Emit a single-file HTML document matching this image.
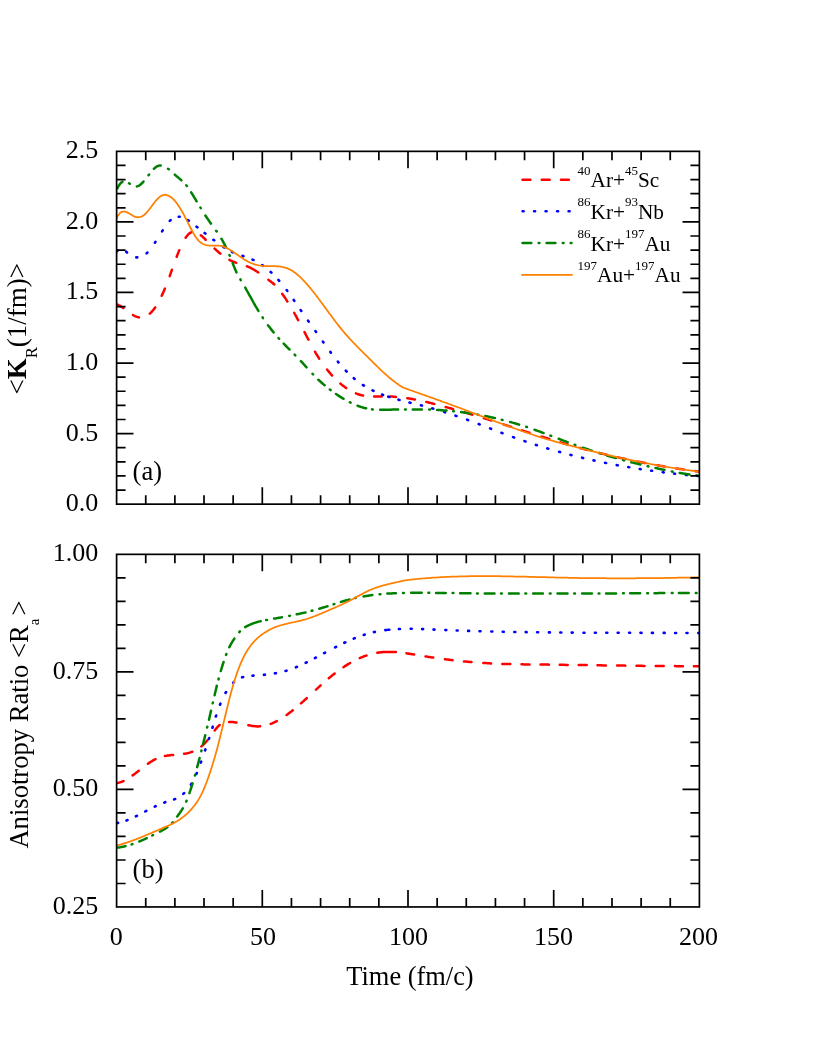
<!DOCTYPE html>
<html><head><meta charset="utf-8"><title>chart</title>
<style>html,body{margin:0;padding:0;background:#fff}svg{display:block;will-change:transform}text{font-family:"Liberation Serif",serif;fill:#000}</style></head><body>
<svg width="817" height="1058" viewBox="0 0 817 1058">
<clipPath id="c1"><rect x="116.6" y="151.35" width="582.8" height="352.8"/></clipPath>
<g clip-path="url(#c1)" fill="none" stroke-linejoin="round" stroke-linecap="round">
<path d="M117.7,304.6L118.4,305.0L119.2,305.4L120.0,305.9L120.8,306.4L121.6,306.9L122.4,307.5L123.2,308.0L123.4,308.2M133.0,315.0L133.8,315.5L134.6,315.9L135.4,316.3L136.2,316.6L137.0,316.9L137.8,317.1L138.6,317.3L138.9,317.4M149.8,313.7L150.4,313.1L151.2,312.3L152.0,311.5L152.8,310.5L153.6,309.6L154.4,308.5L155.2,307.4M161.7,295.8L162.4,294.4L163.2,292.6L164.0,290.7L164.8,288.8L164.9,288.6M169.7,276.2L170.4,274.2L171.2,271.9L171.9,269.8M176.7,256.8L177.4,254.9L178.2,252.9L179.0,250.9L179.3,250.2M185.6,237.8L186.4,236.7L187.2,235.7L188.0,234.7L188.8,233.9L189.6,233.3L190.4,232.7L191.2,232.3L191.5,232.2M200.8,235.2L201.4,235.7L202.2,236.4L203.0,237.2L203.8,237.9L204.6,238.7L205.4,239.5L205.7,239.8M214.5,248.5L215.2,249.1L216.0,249.8L216.8,250.6L217.6,251.3L218.4,252.0L219.2,252.7L220.0,253.3L220.4,253.7M229.5,259.9L230.2,260.3L231.0,260.7L231.8,261.0L232.6,261.4L233.4,261.7L234.2,262.0L235.0,262.3L235.8,262.6L236.3,262.8M246.9,266.3L247.6,266.5L248.4,266.9L249.2,267.2L250.0,267.6L250.8,268.0L251.6,268.4L252.4,268.8L253.2,269.3L254.0,269.7L254.8,270.2L255.6,270.7L256.4,271.2L257.2,271.8L258.0,272.3L258.2,272.4M268.4,279.8L269.2,280.4L270.0,281.0L270.8,281.5L271.6,282.2L272.4,282.8L273.2,283.5L274.0,284.2L274.3,284.4M282.2,293.8L283.0,294.9L283.8,296.0L284.6,297.2L285.4,298.4L286.2,299.6L287.0,300.9L287.4,301.5M294.2,312.8L294.8,314.0L295.6,315.4L296.4,316.8L297.2,318.3L298.0,319.8L298.2,320.2M304.5,332.1L305.2,333.4L306.0,335.0L306.8,336.5L307.6,338.1L308.4,339.6L308.5,339.7M315.0,351.7L315.6,352.8L316.4,354.1L317.2,355.4L318.0,356.7L318.8,358.0L319.2,358.6M327.1,369.5L327.8,370.5L328.6,371.4L329.4,372.4L330.2,373.3L331.0,374.3L331.8,375.2L332.1,375.5M340.4,383.6L341.0,384.1L341.8,384.8L342.6,385.4L343.4,386.0L344.2,386.6L345.0,387.2L345.8,387.8L346.2,388.1M355.9,393.4L356.6,393.7L357.4,394.0L358.2,394.2L359.0,394.5L359.8,394.8L360.6,395.0L361.4,395.2L362.2,395.4L363.0,395.6L363.1,395.6M374.1,396.6L374.8,396.6L375.6,396.6L376.4,396.6L377.2,396.6L378.0,396.6L378.8,396.6L379.6,396.6L380.4,396.5L381.2,396.5L381.7,396.5M390.1,396.5L390.8,396.6L391.6,396.6L392.4,396.6L393.2,396.7L394.0,396.7L394.8,396.8L395.6,396.9L395.9,396.9M407.3,398.2L408.0,398.3L408.8,398.5L409.6,398.6L410.4,398.7L411.2,398.8L412.0,399.0L412.8,399.1L413.6,399.3L414.4,399.4L414.9,399.5M426.3,402.0L427.0,402.1L427.8,402.3L428.6,402.5L429.4,402.7L430.2,402.9L431.0,403.1L431.8,403.3L432.6,403.5L433.4,403.7L434.2,403.9L434.3,403.9M445.7,407.0L446.4,407.2L447.2,407.4L448.0,407.6L448.8,407.9L449.6,408.1L450.4,408.3L451.2,408.5L452.0,408.8L452.8,409.0L453.1,409.1M464.7,412.4L465.4,412.6L466.2,412.9L467.0,413.1L467.8,413.3L468.6,413.6L469.4,413.8L470.2,414.0L471.0,414.3L471.8,414.5L472.3,414.7M483.9,418.2L484.6,418.4L485.4,418.7L486.2,418.9L487.0,419.2L487.8,419.4L488.6,419.7L489.4,419.9L490.2,420.2L491.0,420.4L491.3,420.5M503.3,424.3L504.0,424.6L504.8,424.8L505.6,425.1L506.4,425.3L507.2,425.6L508.0,425.8L508.8,426.1L509.6,426.4L510.4,426.6L511.1,426.8M522.1,430.4L522.8,430.6L523.6,430.9L524.4,431.1L525.2,431.4L526.0,431.6L526.8,431.9L527.6,432.1L528.4,432.4L529.2,432.6L529.5,432.7M541.5,436.6L542.2,436.8L543.0,437.0L543.8,437.3L544.6,437.5L545.4,437.8L546.2,438.0L547.0,438.3L547.8,438.5L548.6,438.8L549.3,439.0M560.5,442.4L561.2,442.6L562.0,442.9L562.8,443.1L563.6,443.3L564.4,443.6L565.2,443.8L566.0,444.0L566.8,444.3L567.6,444.5L567.7,444.5M580.1,448.0L580.8,448.2L581.6,448.4L582.4,448.6L583.2,448.9L584.0,449.1L584.8,449.3L585.6,449.5L586.4,449.7L587.2,449.9L587.5,450.0M599.1,453.0L599.8,453.1L600.6,453.3L601.4,453.5L602.2,453.7L603.0,453.9L603.8,454.1L604.6,454.3L605.4,454.5L606.2,454.7L606.7,454.8M618.1,457.4L618.8,457.6L619.6,457.8L620.4,457.9L621.2,458.1L622.0,458.3L622.8,458.5L623.6,458.6L624.4,458.8L625.2,459.0L625.7,459.1M637.7,461.6L638.4,461.7L639.2,461.9L640.0,462.0L640.8,462.2L641.6,462.3L642.4,462.5L643.2,462.7L644.0,462.8L644.8,463.0L645.3,463.1M657.1,465.2L657.8,465.3L658.6,465.5L659.4,465.6L660.2,465.8L661.0,465.9L661.8,466.0L662.6,466.2L663.4,466.3L664.2,466.4L664.7,466.5M676.1,468.4L676.8,468.5L677.6,468.6L678.4,468.7L679.2,468.9L680.0,469.0L680.8,469.1L681.6,469.2L682.4,469.3L683.2,469.4L683.7,469.5M695.1,471.1L695.8,471.2L696.6,471.3L697.4,471.4L698.2,471.5L699.0,471.6L699.3,471.7" stroke="#ff0000" stroke-width="2.5"/>
<path d="M117.1,251.2L117.7,250.4M126.2,251.7L127.0,252.5M136.3,257.4L137.0,257.4L137.3,257.4M146.6,253.3L147.2,252.7L147.4,252.6M154.9,242.7L155.5,241.8M162.1,231.3L162.7,230.3M169.8,220.9L170.6,220.1L170.6,220.1M178.7,216.8L179.4,216.8L179.7,216.8M187.9,220.1L188.6,220.6L188.9,220.7M196.6,226.7L197.2,227.2L197.4,227.4M204.6,233.0L205.2,233.5L205.4,233.7M213.4,239.8L214.0,240.2L214.2,240.4M223.3,246.9L224.0,247.3L224.3,247.5M231.9,251.8L232.6,252.1L232.9,252.3M242.5,255.9L243.2,256.1L243.5,256.2M252.5,259.6L253.2,259.9L253.5,260.0M262.2,265.1L262.8,265.6L263.0,265.8M270.6,272.0L271.2,272.5L271.4,272.7M278.4,279.9L279.2,280.8M286.7,290.0L287.3,290.9M293.7,299.8L294.3,300.8M300.7,310.1L301.3,311.0M308.1,320.7L308.7,321.6M315.5,331.1L316.1,332.0M322.9,341.6L323.5,342.5M330.3,351.8L330.9,352.7M337.9,361.6L338.5,362.5M345.8,370.7L346.6,371.5M353.8,378.2L354.4,378.8L354.6,378.9M362.9,385.0L363.6,385.4L363.9,385.6M372.5,390.4L373.2,390.7L373.5,390.9M382.1,394.5L382.8,394.8L383.1,394.9M388.3,396.7L389.0,396.9L389.3,397.0M398.5,399.7L399.2,399.9L399.5,400.0M409.5,402.5L410.2,402.7L410.5,402.8M420.9,405.3L421.6,405.5L421.9,405.6M432.3,408.4L433.0,408.6L433.3,408.7M444.1,411.9L444.8,412.2L445.1,412.3M455.5,415.7L456.2,415.9L456.5,416.0M467.1,419.7L467.8,420.0L468.1,420.1M478.7,424.0L479.4,424.3L479.7,424.4M490.1,428.4L490.8,428.7L491.1,428.8M501.5,432.8L502.2,433.1L502.5,433.2M513.1,437.1L513.8,437.4L514.1,437.5M524.5,441.1L525.2,441.4L525.5,441.5M535.9,444.9L536.6,445.1L536.9,445.2M547.3,448.4L548.0,448.6L548.3,448.7M559.1,451.8L559.8,452.0L560.1,452.1M570.5,454.9L571.2,455.1L571.5,455.1M582.1,457.7L582.8,457.9L583.1,458.0M593.5,460.4L594.2,460.5L594.5,460.6M605.1,462.8L605.8,463.0L606.1,463.0M616.7,465.1L617.4,465.2L617.7,465.3M628.3,467.1L629.0,467.3L629.3,467.3M639.7,469.0L640.4,469.1L640.7,469.2M651.1,470.7L651.8,470.8L652.1,470.8M662.7,472.2L663.4,472.3L663.7,472.4M674.1,473.6L674.8,473.7L675.1,473.7M685.9,474.9L686.6,474.9L686.9,475.0M697.1,475.9L697.8,476.0L698.1,476.0" stroke="#0000ff" stroke-width="2.6"/>
<path d="M117.3,188.5L118.0,187.1L118.8,185.7L119.6,184.5L120.4,183.5L121.2,182.7L122.0,182.1L122.5,181.8M136.9,186.4L137.6,186.2L138.4,185.9L139.2,185.5L140.0,184.9L140.8,184.3L141.6,183.5L142.4,182.8L143.2,181.9L143.5,181.5M153.9,168.8L154.6,168.2L155.4,167.5L156.2,166.9L157.0,166.4L157.8,166.0L158.6,165.8L159.4,165.6L160.2,165.5L160.7,165.5M174.8,174.6L175.4,175.2L176.2,175.9L177.0,176.6L177.8,177.2L178.6,177.9L179.4,178.6L180.2,179.2L181.0,179.9L181.4,180.3M191.2,192.3L191.8,193.3L192.6,194.6L193.4,195.9L194.2,197.3L195.0,198.6L195.8,199.9L196.6,201.3L196.6,201.3M205.4,215.5L206.2,216.7L207.0,217.9L207.8,219.1L208.6,220.2L209.4,221.4L210.2,222.6L211.0,223.6M221.4,238.7L222.0,239.7L222.8,241.1L223.6,242.6L224.4,244.1L225.2,245.7L226.0,247.3L226.1,247.5M232.7,263.2L233.4,265.0L234.2,267.0L235.0,269.0L235.8,270.8L236.5,272.4M245.2,287.5L245.8,288.6L246.6,290.1L247.4,291.5L248.2,292.9L249.0,294.4L249.8,295.8L250.6,297.2L251.4,298.7L252.2,300.1L253.0,301.5L253.8,303.0L254.6,304.4L255.4,305.8L256.2,307.1L257.0,308.5L257.8,309.9L258.4,310.9M268.0,325.2L268.8,326.3L269.6,327.3L270.4,328.3L271.2,329.4L272.0,330.4L272.8,331.4L273.6,332.3L273.7,332.5M283.7,343.6L284.4,344.3L285.2,345.2L286.0,346.0L286.8,346.8L287.6,347.6L288.4,348.4L289.2,349.2L289.5,349.5M300.9,361.1L301.6,361.9L302.4,362.7L303.2,363.6L304.0,364.5L304.8,365.4L305.6,366.3L306.4,367.2L306.5,367.3M318.3,379.7L319.0,380.3L319.8,381.0L320.6,381.8L321.4,382.5L322.2,383.2L323.0,383.9L323.8,384.6L324.6,385.3L324.6,385.3M336.0,394.0L336.8,394.5L337.6,395.1L338.4,395.6L339.2,396.1L340.0,396.6L340.8,397.1L341.6,397.6L342.4,398.1L343.2,398.6L343.6,398.8M357.5,405.7L358.2,406.0L359.0,406.3L359.8,406.5L360.6,406.8L361.4,407.1L362.2,407.3L363.0,407.6L363.8,407.8L364.6,408.0L365.4,408.2L366.1,408.3M380.1,409.8L380.8,409.8L381.6,409.8L382.4,409.8L383.2,409.8L384.0,409.8L384.8,409.8L385.6,409.8L386.4,409.8L387.2,409.7L388.0,409.7L388.8,409.7L389.6,409.7L390.4,409.7L391.2,409.7L392.0,409.6L392.8,409.6L393.6,409.6L394.4,409.6L395.2,409.6L396.0,409.6L396.8,409.5L397.6,409.5L398.1,409.5M412.7,409.4L413.4,409.4L414.2,409.4L415.0,409.4L415.8,409.4L416.6,409.4L417.4,409.4L418.2,409.4L419.0,409.4L419.8,409.4L420.6,409.4L421.4,409.4L421.9,409.4M437.1,410.0L437.8,410.0L438.6,410.0L439.4,410.1L440.2,410.1L441.0,410.2L441.8,410.2L442.6,410.3L443.4,410.4L444.2,410.4L445.0,410.5L445.8,410.5L446.5,410.6M461.1,412.1L461.8,412.2L462.6,412.3L463.4,412.4L464.2,412.5L465.0,412.6L465.8,412.7L466.6,412.9L467.4,413.0L468.2,413.1L469.0,413.2L469.8,413.3L470.6,413.4L470.7,413.5M485.3,416.0L486.0,416.2L486.8,416.3L487.6,416.5L488.4,416.7L489.2,416.8L490.0,417.0L490.8,417.2L491.6,417.4L492.4,417.5L493.2,417.7L494.0,417.9L494.8,418.1L494.9,418.1M510.1,422.0L510.8,422.1L511.6,422.4L512.4,422.6L513.2,422.8L514.0,423.1L514.8,423.3L515.6,423.5L516.4,423.8L517.2,424.0L518.0,424.3L518.8,424.5L519.1,424.6M534.5,429.7L535.2,430.0L536.0,430.3L536.8,430.6L537.6,430.8L538.4,431.1L539.2,431.4L540.0,431.7L540.8,432.0L541.6,432.3L542.4,432.6L543.2,432.9L543.5,433.0M558.7,438.8L559.4,439.0L560.2,439.3L561.0,439.7L561.8,440.0L562.6,440.3L563.4,440.6L564.2,440.9L565.0,441.2L565.8,441.5L566.6,441.8L567.4,442.1L567.7,442.2M582.9,447.7L583.6,447.9L584.4,448.2L585.2,448.4L586.0,448.7L586.8,449.0L587.6,449.3L588.4,449.5L589.2,449.8L590.0,450.1L590.8,450.3L591.6,450.6L591.9,450.7M607.1,455.5L607.8,455.8L608.6,456.0L609.4,456.2L610.2,456.5L611.0,456.7L611.8,456.9L612.6,457.2L613.4,457.4L614.2,457.6L615.0,457.9L615.8,458.1L615.9,458.1M631.3,462.3L632.0,462.4L632.8,462.6L633.6,462.8L634.4,463.0L635.2,463.2L636.0,463.4L636.8,463.6L637.6,463.8L638.4,464.0L639.2,464.2L640.0,464.4L640.3,464.5M655.5,468.0L656.2,468.1L657.0,468.3L657.8,468.5L658.6,468.7L659.4,468.9L660.2,469.0L661.0,469.2L661.8,469.4L662.6,469.5L663.4,469.7L664.2,469.9L664.5,469.9M679.7,472.9L680.4,473.0L681.2,473.2L682.0,473.3L682.8,473.4L683.6,473.6L684.4,473.7L685.2,473.8L686.0,473.9L686.8,474.1L687.6,474.2L688.4,474.3L689.2,474.4L689.5,474.4M129.0,183.3L129.8,183.8M148.5,175.2L149.1,174.5M168.0,168.8L168.8,169.3M186.3,185.3L186.9,186.0M200.4,207.5L200.8,208.2M216.1,230.7L216.7,231.4M229.4,255.0L229.8,255.8M240.4,279.4L240.8,280.2M262.6,317.4L263.0,318.2M278.5,338.0L279.1,338.7M294.7,354.7L295.3,355.3M312.5,373.8L313.1,374.4M329.8,389.5L330.6,390.1M349.8,402.2L350.4,402.5L350.6,402.6M372.0,409.3L372.6,409.4L372.8,409.4M405.0,409.4L405.6,409.4L405.8,409.4M429.2,409.6L429.8,409.6L430.0,409.6M453.2,411.2L453.8,411.3L454.0,411.3M477.6,414.6L478.2,414.7L478.4,414.7M501.8,419.7L502.4,419.9L502.6,420.0M526.2,426.9L526.8,427.1L527.0,427.1M550.4,435.6L551.0,435.8L551.2,435.9M574.6,444.7L575.2,444.9L575.4,445.0M599.4,453.1L600.0,453.3L600.2,453.4M623.2,460.1L623.8,460.3L624.0,460.4M647.6,466.2L648.2,466.3L648.4,466.4M671.8,471.4L672.4,471.5L672.6,471.6M696.4,475.3L697.0,475.4L697.2,475.4" stroke="#008000" stroke-width="2.5"/>
<path d="M116.2,219.2L117.0,217.4L117.8,215.9L118.6,214.7L119.4,213.7L120.2,212.9L121.0,212.3L121.8,211.8L122.6,211.6L123.4,211.5L124.2,211.5L125.0,211.6L125.8,211.8L126.6,212.1L127.4,212.4L128.2,212.9L129.0,213.3L129.8,213.8L130.6,214.3L131.4,214.8L132.2,215.3L133.0,215.8L133.8,216.2L134.6,216.6L135.4,216.8L136.2,217.1L137.0,217.2L137.8,217.3L138.6,217.2L139.4,217.1L140.2,217.0L141.0,216.7L141.8,216.4L142.6,215.9L143.4,215.4L144.2,214.8L145.0,214.2L145.8,213.4L146.6,212.6L147.4,211.7L148.2,210.7L149.0,209.7L149.8,208.7L150.6,207.7L151.4,206.6L152.2,205.5L153.0,204.4L153.8,203.4L154.6,202.3L155.4,201.3L156.2,200.3L157.0,199.4L157.8,198.6L158.6,197.8L159.4,197.1L160.2,196.5L161.0,196.0L161.8,195.6L162.6,195.3L163.4,195.1L164.2,194.9L165.0,194.9L165.8,194.9L166.6,195.1L167.4,195.3L168.2,195.6L169.0,195.9L169.8,196.4L170.6,196.9L171.4,197.5L172.2,198.2L173.0,198.9L173.8,199.7L174.6,200.6L175.4,201.5L176.2,202.5L177.0,203.6L177.8,204.7L178.6,205.9L179.4,207.1L180.2,208.4L181.0,209.7L181.8,211.1L182.6,212.5L183.4,213.9L184.2,215.4L185.0,217.0L185.8,218.5L186.6,220.1L187.4,221.7L188.2,223.3L189.0,224.9L189.8,226.5L190.6,228.0L191.4,229.5L192.2,231.0L193.0,232.5L193.8,233.9L194.6,235.2L195.4,236.4L196.2,237.6L197.0,238.7L197.8,239.7L198.6,240.6L199.4,241.4L200.2,242.1L201.0,242.8L201.8,243.3L202.6,243.8L203.4,244.2L204.2,244.5L205.0,244.8L205.8,245.0L206.6,245.2L207.4,245.3L208.2,245.4L209.0,245.5L209.8,245.5L210.6,245.6L211.4,245.6L212.2,245.6L213.0,245.5L213.8,245.5L214.6,245.5L215.4,245.5L216.2,245.5L217.0,245.5L217.8,245.5L218.6,245.6L219.4,245.7L220.2,245.8L221.0,245.9L221.8,246.1L222.6,246.4L223.4,246.6L224.2,246.9L225.0,247.3L225.8,247.6L226.6,248.0L227.4,248.4L228.2,248.8L229.0,249.3L229.8,249.7L230.6,250.2L231.4,250.7L232.2,251.2L233.0,251.7L233.8,252.3L234.6,252.8L235.4,253.4L236.2,253.9L237.0,254.5L237.8,255.0L238.6,255.6L239.4,256.2L240.2,256.7L241.0,257.3L241.8,257.8L242.6,258.3L243.4,258.9L244.2,259.4L245.0,259.9L245.8,260.4L246.6,260.8L247.4,261.3L248.2,261.7L249.0,262.1L249.8,262.5L250.6,262.8L251.4,263.2L252.2,263.5L253.0,263.8L253.8,264.1L254.6,264.4L255.4,264.6L256.2,264.8L257.0,265.0L257.8,265.2L258.6,265.4L259.4,265.5L260.2,265.6L261.0,265.7L261.8,265.8L262.6,265.9L263.4,266.0L264.2,266.0L265.0,266.0L265.8,266.1L266.6,266.1L267.4,266.1L268.2,266.1L269.0,266.1L269.8,266.1L270.6,266.1L271.4,266.1L272.2,266.2L273.0,266.2L273.8,266.2L274.6,266.2L275.4,266.2L276.2,266.3L277.0,266.3L277.8,266.4L278.6,266.4L279.4,266.5L280.2,266.6L281.0,266.7L281.8,266.9L282.6,267.0L283.4,267.2L284.2,267.4L285.0,267.6L285.8,267.8L286.6,268.1L287.4,268.4L288.2,268.7L289.0,269.1L289.8,269.5L290.6,269.9L291.4,270.3L292.2,270.8L293.0,271.3L293.8,271.9L294.6,272.4L295.4,273.0L296.2,273.7L297.0,274.3L297.8,275.0L298.6,275.7L299.4,276.4L300.2,277.1L301.0,277.9L301.8,278.7L302.6,279.5L303.4,280.3L304.2,281.2L305.0,282.0L305.8,282.9L306.6,283.8L307.4,284.7L308.2,285.6L309.0,286.6L309.8,287.5L310.6,288.5L311.4,289.5L312.2,290.5L313.0,291.5L313.8,292.5L314.6,293.5L315.4,294.5L316.2,295.6L317.0,296.6L317.8,297.7L318.6,298.8L319.4,299.8L320.2,300.9L321.0,302.0L321.8,303.1L322.6,304.1L323.4,305.2L324.2,306.3L325.0,307.4L325.8,308.5L326.6,309.6L327.4,310.7L328.2,311.8L329.0,312.9L329.8,314.0L330.6,315.0L331.4,316.1L332.2,317.2L333.0,318.3L333.8,319.3L334.6,320.4L335.4,321.5L336.2,322.5L337.0,323.5L337.8,324.6L338.6,325.6L339.4,326.6L340.2,327.6L341.0,328.6L341.8,329.6L342.6,330.5L343.4,331.5L344.2,332.4L345.0,333.4L345.8,334.3L346.6,335.2L347.4,336.1L348.2,337.0L349.0,337.9L349.8,338.8L350.6,339.6L351.4,340.5L352.2,341.3L353.0,342.2L353.8,343.0L354.6,343.9L355.4,344.7L356.2,345.5L357.0,346.3L357.8,347.1L358.6,348.0L359.4,348.8L360.2,349.6L361.0,350.4L361.8,351.2L362.6,352.0L363.4,352.8L364.2,353.6L365.0,354.3L365.8,355.1L366.6,355.9L367.4,356.7L368.2,357.5L369.0,358.3L369.8,359.1L370.6,359.9L371.4,360.7L372.2,361.5L373.0,362.3L373.8,363.1L374.6,363.9L375.4,364.7L376.2,365.5L377.0,366.2L377.8,367.0L378.6,367.8L379.4,368.6L380.2,369.3L381.0,370.1L381.8,370.8L382.6,371.6L383.4,372.3L384.2,373.1L385.0,373.8L385.8,374.5L386.6,375.2L387.4,375.9L388.2,376.6L389.0,377.3L389.8,378.0L390.6,378.7L391.4,379.3L392.2,380.0L393.0,380.6L393.8,381.2L394.6,381.8L395.4,382.4L396.2,383.0L397.0,383.6L397.8,384.1L398.6,384.7L399.4,385.2L400.2,385.7L401.0,386.2L401.8,386.7L402.6,387.2L403.4,387.6L404.2,388.0L405.0,388.3L405.8,388.6L406.6,388.9L407.4,389.1L408.2,389.4L409.0,389.7L409.8,390.0L410.6,390.3L411.4,390.5L412.2,390.8L413.0,391.1L413.8,391.4L414.6,391.7L415.4,392.0L416.2,392.2L417.0,392.5L417.8,392.8L418.6,393.1L419.4,393.4L420.2,393.7L421.0,393.9L421.8,394.2L422.6,394.5L423.4,394.8L424.2,395.1L425.0,395.4L425.8,395.6L426.6,395.9L427.4,396.2L428.2,396.5L429.0,396.8L429.8,397.1L430.6,397.4L431.4,397.6L432.2,397.9L433.0,398.2L433.8,398.5L434.6,398.8L435.4,399.1L436.2,399.4L437.0,399.6L437.8,399.9L438.6,400.2L439.4,400.5L440.2,400.8L441.0,401.1L441.8,401.4L442.6,401.7L443.4,402.0L444.2,402.2L445.0,402.5L445.8,402.8L446.6,403.1L447.4,403.4L448.2,403.7L449.0,404.0L449.8,404.3L450.6,404.6L451.4,404.9L452.2,405.2L453.0,405.5L453.8,405.8L454.6,406.1L455.4,406.4L456.2,406.7L457.0,406.9L457.8,407.2L458.6,407.5L459.4,407.8L460.2,408.1L461.0,408.4L461.8,408.7L462.6,409.0L463.4,409.3L464.2,409.6L465.0,409.9L465.8,410.2L466.6,410.5L467.4,410.8L468.2,411.1L469.0,411.5L469.8,411.8L470.6,412.1L471.4,412.4L472.2,412.7L473.0,413.0L473.8,413.3L474.6,413.6L475.4,413.9L476.2,414.2L477.0,414.5L477.8,414.8L478.6,415.1L479.4,415.4L480.2,415.7L481.0,416.0L481.8,416.3L482.6,416.6L483.4,416.9L484.2,417.2L485.0,417.5L485.8,417.8L486.6,418.1L487.4,418.4L488.2,418.7L489.0,419.0L489.8,419.3L490.6,419.6L491.4,419.9L492.2,420.2L493.0,420.5L493.8,420.8L494.6,421.1L495.4,421.4L496.2,421.7L497.0,422.0L497.8,422.3L498.6,422.6L499.4,422.9L500.2,423.2L501.0,423.5L501.8,423.8L502.6,424.1L503.4,424.4L504.2,424.7L505.0,425.0L505.8,425.3L506.6,425.6L507.4,425.9L508.2,426.2L509.0,426.4L509.8,426.7L510.6,427.0L511.4,427.3L512.2,427.6L513.0,427.9L513.8,428.2L514.6,428.5L515.4,428.7L516.2,429.0L517.0,429.3L517.8,429.6L518.6,429.9L519.4,430.2L520.2,430.4L521.0,430.7L521.8,431.0L522.6,431.3L523.4,431.5L524.2,431.8L525.0,432.1L525.8,432.4L526.6,432.6L527.4,432.9L528.2,433.2L529.0,433.4L529.8,433.7L530.6,434.0L531.4,434.2L532.2,434.5L533.0,434.8L533.8,435.0L534.6,435.3L535.4,435.6L536.2,435.8L537.0,436.1L537.8,436.3L538.6,436.6L539.4,436.8L540.2,437.1L541.0,437.3L541.8,437.6L542.6,437.8L543.4,438.1L544.2,438.3L545.0,438.6L545.8,438.8L546.6,439.1L547.4,439.3L548.2,439.5L549.0,439.8L549.8,440.0L550.6,440.2L551.4,440.5L552.2,440.7L553.0,440.9L553.8,441.2L554.6,441.4L555.4,441.6L556.2,441.8L557.0,442.1L557.8,442.3L558.6,442.5L559.4,442.7L560.2,442.9L561.0,443.1L561.8,443.4L562.6,443.6L563.4,443.8L564.2,444.0L565.0,444.2L565.8,444.4L566.6,444.6L567.4,444.9L568.2,445.1L569.0,445.3L569.8,445.5L570.6,445.7L571.4,445.9L572.2,446.1L573.0,446.3L573.8,446.5L574.6,446.7L575.4,446.9L576.2,447.1L577.0,447.3L577.8,447.5L578.6,447.7L579.4,448.0L580.2,448.2L581.0,448.4L581.8,448.6L582.6,448.8L583.4,449.0L584.2,449.2L585.0,449.4L585.8,449.6L586.6,449.8L587.4,450.0L588.2,450.2L589.0,450.4L589.8,450.6L590.6,450.8L591.4,451.0L592.2,451.2L593.0,451.4L593.8,451.6L594.6,451.8L595.4,452.0L596.2,452.2L597.0,452.4L597.8,452.6L598.6,452.8L599.4,453.0L600.2,453.1L601.0,453.3L601.8,453.5L602.6,453.7L603.4,453.9L604.2,454.1L605.0,454.3L605.8,454.5L606.6,454.7L607.4,454.9L608.2,455.1L609.0,455.3L609.8,455.4L610.6,455.6L611.4,455.8L612.2,456.0L613.0,456.2L613.8,456.4L614.6,456.6L615.4,456.7L616.2,456.9L617.0,457.1L617.8,457.3L618.6,457.5L619.4,457.6L620.2,457.8L621.0,458.0L621.8,458.2L622.6,458.3L623.4,458.5L624.2,458.7L625.0,458.9L625.8,459.0L626.6,459.2L627.4,459.4L628.2,459.6L629.0,459.7L629.8,459.9L630.6,460.1L631.4,460.2L632.2,460.4L633.0,460.6L633.8,460.7L634.6,460.9L635.4,461.1L636.2,461.2L637.0,461.4L637.8,461.5L638.6,461.7L639.4,461.9L640.2,462.0L641.0,462.2L641.8,462.3L642.6,462.5L643.4,462.7L644.2,462.8L645.0,463.0L645.8,463.1L646.6,463.3L647.4,463.4L648.2,463.6L649.0,463.7L649.8,463.9L650.6,464.0L651.4,464.2L652.2,464.3L653.0,464.5L653.8,464.6L654.6,464.8L655.4,464.9L656.2,465.1L657.0,465.2L657.8,465.3L658.6,465.5L659.4,465.6L660.2,465.8L661.0,465.9L661.8,466.0L662.6,466.2L663.4,466.3L664.2,466.5L665.0,466.6L665.8,466.7L666.6,466.9L667.4,467.0L668.2,467.1L669.0,467.3L669.8,467.4L670.6,467.5L671.4,467.6L672.2,467.8L673.0,467.9L673.8,468.0L674.6,468.2L675.4,468.3L676.2,468.4L677.0,468.5L677.8,468.7L678.6,468.8L679.4,468.9L680.2,469.0L681.0,469.1L681.8,469.3L682.6,469.4L683.4,469.5L684.2,469.6L685.0,469.7L685.8,469.9L686.6,470.0L687.4,470.1L688.2,470.2L689.0,470.3L689.8,470.4L690.6,470.5L691.4,470.6L692.2,470.8L693.0,470.9L693.8,471.0L694.6,471.1L695.4,471.2L696.2,471.3L697.0,471.4L697.8,471.5L698.6,471.6L699.4,471.7" stroke="#ff8000" stroke-width="1.75" stroke-linecap="butt"/>
</g>
<path d="M145.74,504.15v-9.0M145.74,151.35v9.0M174.88,504.15v-9.0M174.88,151.35v9.0M204.02,504.15v-9.0M204.02,151.35v9.0M233.16,504.15v-9.0M233.16,151.35v9.0M262.30,504.15v-16.9M262.30,151.35v16.9M291.44,504.15v-9.0M291.44,151.35v9.0M320.58,504.15v-9.0M320.58,151.35v9.0M349.72,504.15v-9.0M349.72,151.35v9.0M378.86,504.15v-9.0M378.86,151.35v9.0M408.00,504.15v-16.9M408.00,151.35v16.9M437.14,504.15v-9.0M437.14,151.35v9.0M466.28,504.15v-9.0M466.28,151.35v9.0M495.42,504.15v-9.0M495.42,151.35v9.0M524.56,504.15v-9.0M524.56,151.35v9.0M553.70,504.15v-16.9M553.70,151.35v16.9M582.84,504.15v-9.0M582.84,151.35v9.0M611.98,504.15v-9.0M611.98,151.35v9.0M641.12,504.15v-9.0M641.12,151.35v9.0M670.26,504.15v-9.0M670.26,151.35v9.0M116.6,490.04h9.0M699.4,490.04h-9.0M116.6,475.93h9.0M699.4,475.93h-9.0M116.6,461.81h9.0M699.4,461.81h-9.0M116.6,447.70h9.0M699.4,447.70h-9.0M116.6,433.59h16.9M699.4,433.59h-16.9M116.6,419.48h9.0M699.4,419.48h-9.0M116.6,405.37h9.0M699.4,405.37h-9.0M116.6,391.25h9.0M699.4,391.25h-9.0M116.6,377.14h9.0M699.4,377.14h-9.0M116.6,363.03h16.9M699.4,363.03h-16.9M116.6,348.92h9.0M699.4,348.92h-9.0M116.6,334.81h9.0M699.4,334.81h-9.0M116.6,320.69h9.0M699.4,320.69h-9.0M116.6,306.58h9.0M699.4,306.58h-9.0M116.6,292.47h16.9M699.4,292.47h-16.9M116.6,278.36h9.0M699.4,278.36h-9.0M116.6,264.25h9.0M699.4,264.25h-9.0M116.6,250.13h9.0M699.4,250.13h-9.0M116.6,236.02h9.0M699.4,236.02h-9.0M116.6,221.91h16.9M699.4,221.91h-16.9M116.6,207.80h9.0M699.4,207.80h-9.0M116.6,193.69h9.0M699.4,193.69h-9.0M116.6,179.57h9.0M699.4,179.57h-9.0M116.6,165.46h9.0M699.4,165.46h-9.0" stroke="#000" stroke-width="1.7" fill="none"/>
<rect x="116.6" y="151.35" width="582.8" height="352.8" fill="none" stroke="#000" stroke-width="1.7"/>
<clipPath id="c2"><rect x="116.6" y="554.35" width="582.8" height="352.6"/></clipPath>
<g clip-path="url(#c2)" fill="none" stroke-linejoin="round" stroke-linecap="round">
<path d="M117.7,782.9L118.4,782.8L119.2,782.6L120.0,782.3L120.8,782.1L121.6,781.8L122.4,781.5L123.2,781.1L123.5,781.0M132.6,775.4L133.4,774.9L134.2,774.3L135.0,773.7L135.8,773.1L136.6,772.4L137.4,771.8L138.2,771.2L138.8,770.7M148.0,763.7L148.8,763.1L149.6,762.6L150.4,762.1L151.2,761.5L152.0,761.1L152.8,760.6L153.6,760.1L154.4,759.7L155.2,759.3L155.5,759.1M164.9,756.0L165.6,755.9L166.4,755.8L167.2,755.6L168.0,755.5L168.8,755.4L169.6,755.3L170.4,755.2L171.2,755.1L172.0,755.1L172.8,755.0L173.1,755.0M184.1,753.8L184.8,753.7L185.6,753.6L186.4,753.4L187.2,753.3L188.0,753.1L188.8,752.9L189.6,752.6L190.4,752.4L191.2,752.1L192.0,751.8L192.3,751.7M201.4,746.4L202.0,745.9L202.8,745.2L203.6,744.4L204.4,743.6L205.2,742.8L206.0,741.9L206.8,741.0L207.3,740.4M214.7,730.5L215.4,729.6L216.2,728.6L217.0,727.6L217.8,726.7L218.6,725.9L219.4,725.2L219.6,725.0M229.1,721.9L229.8,721.9L230.6,721.9L231.4,722.0L232.2,722.0L233.0,722.1L233.8,722.2L234.6,722.3L235.4,722.4L236.2,722.6L236.5,722.6M248.3,725.2L249.0,725.3L249.8,725.5L250.6,725.6L251.4,725.8L252.2,725.9L253.0,726.0L253.8,726.1L254.6,726.2L255.4,726.3L256.2,726.3L257.0,726.4L257.8,726.4L258.6,726.4L259.4,726.3L260.1,726.3M270.7,723.9L271.4,723.6L272.2,723.3L273.0,722.9L273.8,722.6L274.6,722.2L275.4,721.8L276.2,721.4L276.9,721.0M286.6,715.0L287.4,714.4L288.2,713.8L289.0,713.2L289.8,712.6L290.6,712.0L291.4,711.4L292.2,710.7L292.8,710.2M301.0,703.4L301.6,702.8L302.4,702.1L303.2,701.4L304.0,700.7L304.8,699.9L305.6,699.2L306.4,698.5L306.8,698.1M316.0,689.7L316.6,689.1L317.4,688.4L318.2,687.6L319.0,686.9L319.8,686.2L320.6,685.4L320.6,685.4M328.8,678.3L329.4,677.8L330.2,677.1L331.0,676.4L331.8,675.8L332.6,675.1L333.4,674.5L334.2,673.9L334.6,673.5M343.4,667.2L344.2,666.7L345.0,666.1L345.8,665.6L346.6,665.1L347.4,664.6L348.2,664.1L349.0,663.7L349.8,663.2L350.1,663.0M359.7,658.1L360.4,657.8L361.2,657.5L362.0,657.2L362.8,656.8L363.6,656.5L364.4,656.2L365.2,655.9L366.0,655.7L366.5,655.5M377.3,652.8L378.0,652.7L378.8,652.5L379.6,652.4L380.4,652.3L381.2,652.2L382.0,652.2L382.8,652.1L383.6,652.0L384.4,652.0L385.2,652.0L386.0,651.9L386.8,651.9L387.6,651.9L388.4,651.9L389.2,651.9L390.0,651.9L390.8,651.9L391.6,651.9L392.4,651.9L393.2,652.0L394.0,652.0L394.8,652.1L395.6,652.1L395.9,652.1M406.5,653.3L407.2,653.4L408.0,653.5L408.8,653.7L409.6,653.8L410.4,653.9L411.2,654.0L412.0,654.2L412.8,654.3L413.6,654.4L414.1,654.5M425.5,656.4L426.2,656.5L427.0,656.6L427.8,656.8L428.6,656.9L429.4,657.0L430.2,657.1L431.0,657.3L431.8,657.4L432.6,657.5L433.3,657.6M444.9,659.2L445.6,659.3L446.4,659.4L447.2,659.5L448.0,659.6L448.8,659.7L449.6,659.8L450.4,659.9L451.2,660.0L452.0,660.1L452.5,660.2M463.9,661.4L464.6,661.5L465.4,661.5L466.2,661.6L467.0,661.7L467.8,661.8L468.6,661.8L469.4,661.9L470.2,662.0L471.0,662.0L471.5,662.1M483.3,663.0L484.0,663.0L484.8,663.1L485.6,663.1L486.4,663.1L487.2,663.2L488.0,663.2L488.8,663.3L489.6,663.3L490.4,663.4L491.1,663.4M502.3,663.9L503.0,663.9L503.8,663.9L504.6,663.9L505.4,664.0L506.2,664.0L507.0,664.0L507.8,664.0L508.6,664.0L509.4,664.1L510.2,664.1L510.3,664.1M521.5,664.3L522.2,664.3L523.0,664.3L523.8,664.4L524.6,664.4L525.4,664.4L526.2,664.4L527.0,664.4L527.8,664.4L528.6,664.4L529.4,664.4L529.5,664.4M540.5,664.6L541.2,664.6L542.0,664.6L542.8,664.6L543.6,664.6L544.4,664.6L545.2,664.6L546.0,664.6L546.8,664.6L547.6,664.6L548.4,664.6L548.9,664.7M559.7,664.8L560.4,664.8L561.2,664.8L562.0,664.8L562.8,664.8L563.6,664.8L564.4,664.8L565.2,664.9L566.0,664.9L566.8,664.9L567.6,664.9L567.7,664.9M578.7,665.0L579.4,665.0L580.2,665.1L581.0,665.1L581.8,665.1L582.6,665.1L583.4,665.1L584.2,665.1L585.0,665.1L585.8,665.1L586.6,665.1L586.7,665.1M597.5,665.3L598.2,665.3L599.0,665.3L599.8,665.3L600.6,665.3L601.4,665.3L602.2,665.4L603.0,665.4L603.8,665.4L604.6,665.4L605.4,665.4L605.9,665.4M617.1,665.5L617.8,665.6L618.6,665.6L619.4,665.6L620.2,665.6L621.0,665.6L621.8,665.6L622.6,665.6L623.4,665.6L624.2,665.6L625.0,665.6L625.3,665.7M636.5,665.8L637.2,665.8L638.0,665.8L638.8,665.8L639.6,665.8L640.4,665.8L641.2,665.8L642.0,665.8L642.8,665.9L643.6,665.9L644.4,665.9L644.5,665.9M655.7,666.0L656.4,666.0L657.2,666.0L658.0,666.0L658.8,666.0L659.6,666.0L660.4,666.0L661.2,666.0L662.0,666.0L662.8,666.1L663.6,666.1L663.7,666.1M674.9,666.1L675.6,666.1L676.4,666.2L677.2,666.2L678.0,666.2L678.8,666.2L679.6,666.2L680.4,666.2L681.2,666.2L682.0,666.2L682.8,666.2L682.9,666.2M693.9,666.2L694.6,666.2L695.4,666.2L696.2,666.2L697.0,666.2L697.8,666.2L698.6,666.2L699.3,666.2" stroke="#ff0000" stroke-width="2.5"/>
<path d="M117.1,823.0L117.8,822.9L118.1,822.9M126.5,820.5L127.2,820.2L127.5,820.1M135.9,816.3L136.6,816.0L136.9,815.8M145.3,811.4L146.0,811.1L146.3,810.9M154.7,806.6L155.4,806.3L155.7,806.1M164.3,802.6L165.0,802.3L165.3,802.2M174.1,799.4L174.8,799.1L175.1,799.0M183.4,793.8L184.0,793.3L184.2,793.1M190.9,784.7L191.5,783.7M196.4,774.0L196.8,773.0M200.8,762.6L201.2,761.6M205.0,750.4L205.4,749.4M208.8,739.0L209.2,738.0M212.4,727.7L212.8,726.6M215.8,716.5L216.2,715.5M220.0,704.7L220.4,703.7M225.5,693.0L226.1,692.0M233.2,682.7L233.8,682.2L234.0,682.0M242.1,677.3L242.8,677.1L243.1,677.0M252.5,675.7L253.2,675.6L253.5,675.6M263.9,674.9L264.6,674.8L264.9,674.7M274.9,673.4L275.6,673.3L275.9,673.2M285.5,671.0L286.2,670.8L286.5,670.7M295.9,667.3L296.6,667.0L296.9,666.8M305.7,662.8L306.4,662.5L306.7,662.3M314.9,658.1L315.6,657.7L315.9,657.6M324.1,653.2L324.8,652.8L325.1,652.7M335.1,647.4L335.8,647.0L336.1,646.9M344.3,642.8L345.0,642.5L345.3,642.3M353.7,638.6L354.4,638.3L354.7,638.2M363.7,634.9L364.4,634.7L364.7,634.6M373.9,632.1L374.6,632.0L374.9,631.9M385.3,630.1L386.0,630.1L386.3,630.0M388.3,629.8L389.0,629.7L389.3,629.7M398.9,629.0L399.6,629.0L399.9,629.0M410.7,628.8L411.4,628.8L411.7,628.8M422.1,629.1L422.8,629.1L423.1,629.1M433.5,629.6L434.2,629.6L434.5,629.6M445.3,630.0L446.0,630.1L446.3,630.1M456.7,630.5L457.4,630.5L457.7,630.5M468.1,630.9L468.8,630.9L469.1,630.9M479.5,631.2L480.2,631.2L480.5,631.2M491.3,631.5L492.0,631.5L492.3,631.5M502.7,631.7L503.4,631.7L503.7,631.8M514.3,632.0L515.0,632.0L515.3,632.0M525.7,632.1L526.4,632.1L526.7,632.2M537.1,632.3L537.8,632.3L538.1,632.3M548.9,632.4L549.6,632.4L549.9,632.4M560.3,632.5L561.0,632.5L561.3,632.5M571.7,632.6L572.4,632.6L572.7,632.6M583.5,632.7L584.2,632.7L584.5,632.7M594.9,632.7L595.6,632.7L595.9,632.7M606.3,632.8L607.0,632.8L607.3,632.8M617.7,632.8L618.4,632.8L618.7,632.8M629.1,632.8L629.8,632.8L630.1,632.8M640.5,632.8L641.2,632.9L641.5,632.9M651.9,632.9L652.6,632.9L652.9,632.9M663.7,632.9L664.4,632.9L664.7,632.9M675.1,633.0L675.8,633.0L676.1,633.0M686.5,633.0L687.2,633.0L687.5,633.0M698.3,633.1L699.0,633.1L699.3,633.1" stroke="#0000ff" stroke-width="2.6"/>
<path d="M117.7,847.6L118.4,847.5L119.2,847.4L120.0,847.3L120.8,847.1L121.6,847.0L122.4,846.8L123.2,846.7L124.0,846.5L124.8,846.3L125.5,846.1M139.3,841.5L140.0,841.2L140.8,840.8L141.6,840.5L142.4,840.1L143.2,839.8L144.0,839.4L144.8,839.1L145.6,838.7L146.4,838.3L146.7,838.2M159.9,831.6L160.6,831.3L161.4,830.9L162.2,830.4L163.0,830.0L163.8,829.5L164.6,829.1L165.4,828.6L166.2,828.0L167.0,827.5L167.4,827.2M177.2,816.5L178.0,815.5L178.8,814.3L179.6,813.2L180.4,812.0L181.2,810.9L182.0,809.6L182.8,808.3L182.8,808.3M189.4,793.1L190.2,790.9L191.0,788.4L191.8,785.9L192.6,783.4M197.2,767.1L197.8,764.9L198.6,761.8L199.4,758.7L199.6,757.9M203.0,744.4L203.6,741.9L204.4,738.7L205.2,735.4L205.2,735.3M209.0,719.7L209.6,717.0L210.4,713.5L211.0,710.7M214.6,695.2L215.2,692.5L216.0,689.2L216.8,685.9L216.8,685.8M220.8,671.0L221.6,668.3L222.4,665.7L223.2,663.1L223.6,662.0M229.3,647.3L230.0,645.9L230.8,644.4L231.6,643.0L232.4,641.7L233.2,640.4L234.0,639.2L234.4,638.6M245.2,627.1L246.0,626.6L246.8,626.2L247.6,625.8L248.4,625.4L249.2,625.0L250.0,624.6L250.8,624.3L251.6,624.0L252.4,623.7L253.2,623.4L254.0,623.1L254.8,622.8L255.6,622.6L256.4,622.3L257.2,622.1L258.0,621.8L258.8,621.6L259.6,621.4L260.4,621.2L260.7,621.2M274.1,618.6L274.8,618.5L275.6,618.4L276.4,618.3L277.2,618.1L278.0,618.0L278.8,617.8L279.6,617.7L280.4,617.6L281.2,617.4L281.9,617.3M296.7,614.3L297.4,614.2L298.2,614.0L299.0,613.9L299.8,613.7L300.6,613.5L301.4,613.3L302.2,613.1L303.0,612.9L303.8,612.8L304.6,612.6L305.4,612.4L305.5,612.4M319.3,608.7L320.0,608.5L320.8,608.3L321.6,608.0L322.4,607.8L323.2,607.5L324.0,607.3L324.8,607.1L325.6,606.8L326.4,606.6L327.2,606.3L327.5,606.2M340.9,601.9L341.6,601.7L342.4,601.5L343.2,601.2L344.0,601.0L344.8,600.8L345.6,600.5L346.4,600.3L347.2,600.1L348.0,599.9L348.8,599.6L349.5,599.5M363.5,596.4L364.2,596.3L365.0,596.2L365.8,596.0L366.6,595.9L367.4,595.8L368.2,595.7L369.0,595.5L369.8,595.4L370.6,595.3L371.4,595.2L372.2,595.1L372.3,595.1M387.3,593.6L388.0,593.6L388.8,593.6L389.6,593.5L390.4,593.5L391.2,593.4L392.0,593.4L392.8,593.3L393.6,593.3L394.4,593.2L395.2,593.2L395.9,593.2M411.1,592.8L411.8,592.8L412.6,592.8L413.4,592.8L414.2,592.8L415.0,592.8L415.8,592.8L416.6,592.8L417.4,592.8L418.2,592.8L419.0,592.8L419.8,592.8L420.6,592.8L421.4,592.8L421.7,592.8M436.1,592.9L436.8,592.9L437.6,592.9L438.4,593.0L439.2,593.0L440.0,593.0L440.8,593.0L441.6,593.0L442.4,593.0L443.2,593.0L444.0,593.0L444.8,593.0L445.6,593.1L445.7,593.1M460.1,593.2L460.8,593.2L461.6,593.2L462.4,593.2L463.2,593.2L464.0,593.2L464.8,593.3L465.6,593.3L466.4,593.3L467.2,593.3L468.0,593.3L468.8,593.3L469.6,593.3L470.4,593.3L470.5,593.3M484.7,593.4L485.4,593.4L486.2,593.4L487.0,593.4L487.8,593.4L488.6,593.4L489.4,593.4L490.2,593.4L491.0,593.4L491.8,593.5L492.6,593.5L493.4,593.5L494.2,593.5L494.5,593.5M508.9,593.5L509.6,593.5L510.4,593.5L511.2,593.5L512.0,593.5L512.8,593.5L513.6,593.5L514.4,593.5L515.2,593.5L516.0,593.6L516.8,593.6L517.6,593.6L518.4,593.6L518.7,593.6M533.1,593.6L533.8,593.6L534.6,593.6L535.4,593.6L536.2,593.6L537.0,593.6L537.8,593.6L538.6,593.6L539.4,593.6L540.2,593.6L541.0,593.6L541.8,593.6L542.6,593.6L542.9,593.6M557.5,593.6L558.2,593.6L559.0,593.6L559.8,593.6L560.6,593.6L561.4,593.6L562.2,593.6L563.0,593.6L563.8,593.6L564.6,593.6L565.4,593.6L566.2,593.6L567.0,593.6L567.5,593.6M582.1,593.5L582.8,593.5L583.6,593.5L584.4,593.5L585.2,593.5L586.0,593.5L586.8,593.5L587.6,593.5L588.4,593.5L589.2,593.5L590.0,593.5L590.8,593.5L591.6,593.5L591.9,593.5M606.1,593.4L606.8,593.4L607.6,593.4L608.4,593.4L609.2,593.4L610.0,593.4L610.8,593.4L611.6,593.4L612.4,593.4L613.2,593.4L614.0,593.4L614.8,593.4L615.6,593.4L616.1,593.4M630.1,593.3L630.8,593.3L631.6,593.3L632.4,593.3L633.2,593.3L634.0,593.3L634.8,593.3L635.6,593.3L636.4,593.3L637.2,593.3L638.0,593.3L638.8,593.3L639.6,593.3L640.1,593.3M654.5,593.2L655.2,593.2L656.0,593.2L656.8,593.2L657.6,593.2L658.4,593.1L659.2,593.1L660.0,593.1L660.8,593.1L661.6,593.1L662.4,593.1L663.2,593.1L664.0,593.1L664.3,593.1M678.9,593.0L679.6,593.0L680.4,593.0L681.2,593.0L682.0,593.0L682.8,593.0L683.6,593.0L684.4,593.0L685.2,593.0L686.0,593.0L686.8,593.0L687.6,593.0L688.4,593.0L688.7,593.0M131.6,844.4L132.2,844.2L132.4,844.1M152.2,835.5L152.8,835.2L153.0,835.1M172.1,823.0L172.7,822.3M186.2,801.6L186.6,800.7M194.9,775.5L195.1,774.7M201.3,751.2L201.5,750.4M207.1,727.6L207.3,726.7M212.7,703.3L212.9,702.5M218.5,679.4L218.7,678.5M226.0,654.9L226.4,654.0M239.3,632.1L239.9,631.4M266.2,620.0L266.8,619.9L267.0,619.9M289.2,615.9L289.8,615.8L290.0,615.7M311.6,610.8L312.2,610.7L312.4,610.6M333.6,604.3L334.2,604.1L334.4,604.0M355.0,598.1L355.6,598.0L355.8,597.9M379.6,594.3L380.2,594.2L380.4,594.2M403.0,592.9L403.6,592.9L403.8,592.9M428.4,592.8L429.0,592.8L429.2,592.8M452.6,593.1L453.2,593.1L453.4,593.1M477.0,593.4L477.6,593.4L477.8,593.4M501.0,593.5L501.6,593.5L501.8,593.5M525.4,593.6L526.0,593.6L526.2,593.6M549.8,593.6L550.4,593.6L550.6,593.6M574.2,593.5L574.8,593.5L575.0,593.5M598.6,593.5L599.2,593.5L599.4,593.5M623.0,593.3L623.6,593.3L623.8,593.3M647.2,593.2L647.8,593.2L648.0,593.2M671.8,593.1L672.4,593.1L672.6,593.1M695.8,592.9L696.4,592.9L696.6,592.9" stroke="#008000" stroke-width="2.5"/>
<path d="M116.2,845.6L117.0,845.4L117.8,845.2L118.6,845.0L119.4,844.8L120.2,844.6L121.0,844.4L121.8,844.1L122.6,843.9L123.4,843.7L124.2,843.4L125.0,843.2L125.8,842.9L126.6,842.6L127.4,842.4L128.2,842.1L129.0,841.8L129.8,841.6L130.6,841.3L131.4,841.0L132.2,840.7L133.0,840.4L133.8,840.1L134.6,839.8L135.4,839.5L136.2,839.2L137.0,838.9L137.8,838.6L138.6,838.3L139.4,837.9L140.2,837.6L141.0,837.3L141.8,837.0L142.6,836.6L143.4,836.3L144.2,836.0L145.0,835.6L145.8,835.3L146.6,835.0L147.4,834.6L148.2,834.3L149.0,833.9L149.8,833.6L150.6,833.3L151.4,832.9L152.2,832.6L153.0,832.2L153.8,831.9L154.6,831.5L155.4,831.2L156.2,830.9L157.0,830.5L157.8,830.2L158.6,829.8L159.4,829.5L160.2,829.1L161.0,828.8L161.8,828.5L162.6,828.1L163.4,827.8L164.2,827.4L165.0,827.1L165.8,826.8L166.6,826.4L167.4,826.1L168.2,825.7L169.0,825.3L169.8,825.0L170.6,824.6L171.4,824.2L172.2,823.8L173.0,823.4L173.8,823.0L174.6,822.5L175.4,822.1L176.2,821.6L177.0,821.2L177.8,820.7L178.6,820.2L179.4,819.7L180.2,819.1L181.0,818.6L181.8,818.0L182.6,817.4L183.4,816.8L184.2,816.1L185.0,815.4L185.8,814.8L186.6,814.0L187.4,813.3L188.2,812.5L189.0,811.7L189.8,810.9L190.6,810.1L191.4,809.2L192.2,808.3L193.0,807.3L193.8,806.3L194.6,805.3L195.4,804.2L196.2,803.1L197.0,801.9L197.8,800.7L198.6,799.4L199.4,798.1L200.2,796.6L201.0,795.1L201.8,793.5L202.6,791.8L203.4,790.1L204.2,788.2L205.0,786.3L205.8,784.3L206.6,782.2L207.4,780.0L208.2,777.8L209.0,775.5L209.8,773.1L210.6,770.7L211.4,768.2L212.2,765.7L213.0,763.1L213.8,760.4L214.6,757.7L215.4,755.0L216.2,752.1L217.0,749.2L217.8,746.2L218.6,743.1L219.4,740.0L220.2,736.7L221.0,733.4L221.8,730.1L222.6,726.8L223.4,723.5L224.2,720.1L225.0,716.8L225.8,713.5L226.6,710.2L227.4,706.9L228.2,703.7L229.0,700.4L229.8,697.3L230.6,694.2L231.4,691.3L232.2,688.4L233.0,685.6L233.8,682.9L234.6,680.3L235.4,677.8L236.2,675.4L237.0,673.1L237.8,670.8L238.6,668.7L239.4,666.6L240.2,664.6L241.0,662.7L241.8,660.9L242.6,659.1L243.4,657.5L244.2,655.9L245.0,654.4L245.8,653.0L246.6,651.6L247.4,650.3L248.2,649.0L249.0,647.9L249.8,646.7L250.6,645.7L251.4,644.6L252.2,643.7L253.0,642.7L253.8,641.8L254.6,641.0L255.4,640.2L256.2,639.4L257.0,638.6L257.8,637.9L258.6,637.2L259.4,636.5L260.2,635.9L261.0,635.2L261.8,634.6L262.6,634.0L263.4,633.5L264.2,632.9L265.0,632.4L265.8,631.9L266.6,631.4L267.4,630.9L268.2,630.5L269.0,630.0L269.8,629.6L270.6,629.2L271.4,628.8L272.2,628.5L273.0,628.1L273.8,627.8L274.6,627.4L275.4,627.1L276.2,626.8L277.0,626.5L277.8,626.3L278.6,626.0L279.4,625.7L280.2,625.5L281.0,625.2L281.8,625.0L282.6,624.8L283.4,624.6L284.2,624.4L285.0,624.2L285.8,624.0L286.6,623.8L287.4,623.6L288.2,623.4L289.0,623.2L289.8,623.0L290.6,622.9L291.4,622.7L292.2,622.5L293.0,622.3L293.8,622.2L294.6,622.0L295.4,621.8L296.2,621.7L297.0,621.5L297.8,621.3L298.6,621.1L299.4,620.9L300.2,620.8L301.0,620.6L301.8,620.4L302.6,620.2L303.4,619.9L304.2,619.7L305.0,619.5L305.8,619.3L306.6,619.0L307.4,618.8L308.2,618.5L309.0,618.2L309.8,618.0L310.6,617.7L311.4,617.4L312.2,617.1L313.0,616.8L313.8,616.5L314.6,616.2L315.4,615.9L316.2,615.6L317.0,615.2L317.8,614.9L318.6,614.6L319.4,614.3L320.2,613.9L321.0,613.6L321.8,613.2L322.6,612.9L323.4,612.6L324.2,612.2L325.0,611.9L325.8,611.5L326.6,611.2L327.4,610.8L328.2,610.5L329.0,610.1L329.8,609.8L330.6,609.4L331.4,609.1L332.2,608.7L333.0,608.4L333.8,608.1L334.6,607.7L335.4,607.4L336.2,607.0L337.0,606.7L337.8,606.3L338.6,606.0L339.4,605.6L340.2,605.2L341.0,604.9L341.8,604.5L342.6,604.2L343.4,603.8L344.2,603.4L345.0,603.0L345.8,602.6L346.6,602.3L347.4,601.9L348.2,601.5L349.0,601.1L349.8,600.6L350.6,600.2L351.4,599.8L352.2,599.4L353.0,599.0L353.8,598.5L354.6,598.1L355.4,597.6L356.2,597.2L357.0,596.8L357.8,596.3L358.6,595.9L359.4,595.4L360.2,595.0L361.0,594.6L361.8,594.1L362.6,593.7L363.4,593.3L364.2,592.9L365.0,592.4L365.8,592.0L366.6,591.6L367.4,591.3L368.2,590.9L369.0,590.5L369.8,590.1L370.6,589.8L371.4,589.5L372.2,589.1L373.0,588.8L373.8,588.5L374.6,588.2L375.4,587.9L376.2,587.6L377.0,587.3L377.8,587.1L378.6,586.8L379.4,586.6L380.2,586.3L381.0,586.1L381.8,585.9L382.6,585.6L383.4,585.4L384.2,585.2L385.0,585.0L385.8,584.8L386.6,584.6L387.4,584.4L388.2,584.2L389.0,584.0L389.8,583.8L390.6,583.6L391.4,583.4L392.2,583.2L393.0,583.1L393.8,582.9L394.6,582.7L395.4,582.5L396.2,582.3L397.0,582.2L397.8,582.0L398.6,581.8L399.4,581.6L400.2,581.4L401.0,581.3L401.8,581.1L402.6,580.9L403.4,580.7L404.2,580.5L405.0,580.4L405.8,580.3L406.6,580.2L407.4,580.1L408.2,580.0L409.0,579.9L409.8,579.8L410.6,579.7L411.4,579.6L412.2,579.5L413.0,579.4L413.8,579.3L414.6,579.3L415.4,579.2L416.2,579.1L417.0,579.0L417.8,578.9L418.6,578.9L419.4,578.8L420.2,578.7L421.0,578.6L421.8,578.6L422.6,578.5L423.4,578.4L424.2,578.4L425.0,578.3L425.8,578.2L426.6,578.2L427.4,578.1L428.2,578.0L429.0,578.0L429.8,577.9L430.6,577.9L431.4,577.8L432.2,577.7L433.0,577.7L433.8,577.6L434.6,577.6L435.4,577.5L436.2,577.5L437.0,577.4L437.8,577.4L438.6,577.3L439.4,577.3L440.2,577.2L441.0,577.2L441.8,577.1L442.6,577.1L443.4,577.1L444.2,577.0L445.0,577.0L445.8,576.9L446.6,576.9L447.4,576.9L448.2,576.8L449.0,576.8L449.8,576.8L450.6,576.7L451.4,576.7L452.2,576.7L453.0,576.7L453.8,576.6L454.6,576.6L455.4,576.6L456.2,576.5L457.0,576.5L457.8,576.5L458.6,576.5L459.4,576.4L460.2,576.4L461.0,576.4L461.8,576.4L462.6,576.4L463.4,576.4L464.2,576.3L465.0,576.3L465.8,576.3L466.6,576.3L467.4,576.3L468.2,576.3L469.0,576.2L469.8,576.2L470.6,576.2L471.4,576.2L472.2,576.2L473.0,576.2L473.8,576.2L474.6,576.2L475.4,576.2L476.2,576.2L477.0,576.2L477.8,576.2L478.6,576.1L479.4,576.1L480.2,576.1L481.0,576.1L481.8,576.1L482.6,576.1L483.4,576.1L484.2,576.1L485.0,576.1L485.8,576.1L486.6,576.1L487.4,576.1L488.2,576.1L489.0,576.1L489.8,576.1L490.6,576.2L491.4,576.2L492.2,576.2L493.0,576.2L493.8,576.2L494.6,576.2L495.4,576.2L496.2,576.2L497.0,576.2L497.8,576.2L498.6,576.2L499.4,576.2L500.2,576.2L501.0,576.3L501.8,576.3L502.6,576.3L503.4,576.3L504.2,576.3L505.0,576.3L505.8,576.3L506.6,576.3L507.4,576.3L508.2,576.4L509.0,576.4L509.8,576.4L510.6,576.4L511.4,576.4L512.2,576.4L513.0,576.4L513.8,576.5L514.6,576.5L515.4,576.5L516.2,576.5L517.0,576.5L517.8,576.5L518.6,576.6L519.4,576.6L520.2,576.6L521.0,576.6L521.8,576.6L522.6,576.6L523.4,576.7L524.2,576.7L525.0,576.7L525.8,576.7L526.6,576.7L527.4,576.8L528.2,576.8L529.0,576.8L529.8,576.8L530.6,576.8L531.4,576.9L532.2,576.9L533.0,576.9L533.8,576.9L534.6,576.9L535.4,577.0L536.2,577.0L537.0,577.0L537.8,577.0L538.6,577.0L539.4,577.1L540.2,577.1L541.0,577.1L541.8,577.1L542.6,577.1L543.4,577.2L544.2,577.2L545.0,577.2L545.8,577.2L546.6,577.2L547.4,577.3L548.2,577.3L549.0,577.3L549.8,577.3L550.6,577.3L551.4,577.4L552.2,577.4L553.0,577.4L553.8,577.4L554.6,577.4L555.4,577.5L556.2,577.5L557.0,577.5L557.8,577.5L558.6,577.5L559.4,577.6L560.2,577.6L561.0,577.6L561.8,577.6L562.6,577.6L563.4,577.7L564.2,577.7L565.0,577.7L565.8,577.7L566.6,577.7L567.4,577.7L568.2,577.8L569.0,577.8L569.8,577.8L570.6,577.8L571.4,577.8L572.2,577.8L573.0,577.9L573.8,577.9L574.6,577.9L575.4,577.9L576.2,577.9L577.0,577.9L577.8,577.9L578.6,578.0L579.4,578.0L580.2,578.0L581.0,578.0L581.8,578.0L582.6,578.0L583.4,578.0L584.2,578.0L585.0,578.0L585.8,578.1L586.6,578.1L587.4,578.1L588.2,578.1L589.0,578.1L589.8,578.1L590.6,578.1L591.4,578.1L592.2,578.1L593.0,578.1L593.8,578.2L594.6,578.2L595.4,578.2L596.2,578.2L597.0,578.2L597.8,578.2L598.6,578.2L599.4,578.2L600.2,578.2L601.0,578.2L601.8,578.2L602.6,578.2L603.4,578.2L604.2,578.2L605.0,578.2L605.8,578.2L606.6,578.3L607.4,578.3L608.2,578.3L609.0,578.3L609.8,578.3L610.6,578.3L611.4,578.3L612.2,578.3L613.0,578.3L613.8,578.3L614.6,578.3L615.4,578.3L616.2,578.3L617.0,578.3L617.8,578.3L618.6,578.3L619.4,578.3L620.2,578.3L621.0,578.3L621.8,578.3L622.6,578.3L623.4,578.3L624.2,578.3L625.0,578.3L625.8,578.3L626.6,578.3L627.4,578.3L628.2,578.3L629.0,578.3L629.8,578.3L630.6,578.3L631.4,578.3L632.2,578.3L633.0,578.3L633.8,578.3L634.6,578.3L635.4,578.3L636.2,578.2L637.0,578.2L637.8,578.2L638.6,578.2L639.4,578.2L640.2,578.2L641.0,578.2L641.8,578.2L642.6,578.2L643.4,578.2L644.2,578.2L645.0,578.2L645.8,578.2L646.6,578.2L647.4,578.2L648.2,578.2L649.0,578.2L649.8,578.1L650.6,578.1L651.4,578.1L652.2,578.1L653.0,578.1L653.8,578.1L654.6,578.1L655.4,578.1L656.2,578.1L657.0,578.1L657.8,578.1L658.6,578.0L659.4,578.0L660.2,578.0L661.0,578.0L661.8,578.0L662.6,578.0L663.4,578.0L664.2,578.0L665.0,577.9L665.8,577.9L666.6,577.9L667.4,577.9L668.2,577.9L669.0,577.9L669.8,577.9L670.6,577.9L671.4,577.8L672.2,577.8L673.0,577.8L673.8,577.8L674.6,577.8L675.4,577.8L676.2,577.8L677.0,577.7L677.8,577.7L678.6,577.7L679.4,577.7L680.2,577.7L681.0,577.7L681.8,577.6L682.6,577.6L683.4,577.6L684.2,577.6L685.0,577.6L685.8,577.6L686.6,577.5L687.4,577.5L688.2,577.5L689.0,577.5L689.8,577.5L690.6,577.5L691.4,577.4L692.2,577.4L693.0,577.4L693.8,577.4L694.6,577.4L695.4,577.3L696.2,577.3L697.0,577.3L697.8,577.3L698.6,577.3L699.4,577.2" stroke="#ff8000" stroke-width="1.75" stroke-linecap="butt"/>
</g>
<path d="M145.74,907.0v-9.0M145.74,554.35v9.0M174.88,907.0v-9.0M174.88,554.35v9.0M204.02,907.0v-9.0M204.02,554.35v9.0M233.16,907.0v-9.0M233.16,554.35v9.0M262.30,907.0v-16.9M262.30,554.35v16.9M291.44,907.0v-9.0M291.44,554.35v9.0M320.58,907.0v-9.0M320.58,554.35v9.0M349.72,907.0v-9.0M349.72,554.35v9.0M378.86,907.0v-9.0M378.86,554.35v9.0M408.00,907.0v-16.9M408.00,554.35v16.9M437.14,907.0v-9.0M437.14,554.35v9.0M466.28,907.0v-9.0M466.28,554.35v9.0M495.42,907.0v-9.0M495.42,554.35v9.0M524.56,907.0v-9.0M524.56,554.35v9.0M553.70,907.0v-16.9M553.70,554.35v16.9M582.84,907.0v-9.0M582.84,554.35v9.0M611.98,907.0v-9.0M611.98,554.35v9.0M641.12,907.0v-9.0M641.12,554.35v9.0M670.26,907.0v-9.0M670.26,554.35v9.0M116.6,883.49h9.0M699.4,883.49h-9.0M116.6,859.98h9.0M699.4,859.98h-9.0M116.6,836.47h9.0M699.4,836.47h-9.0M116.6,812.96h9.0M699.4,812.96h-9.0M116.6,789.45h16.9M699.4,789.45h-16.9M116.6,765.94h9.0M699.4,765.94h-9.0M116.6,742.43h9.0M699.4,742.43h-9.0M116.6,718.92h9.0M699.4,718.92h-9.0M116.6,695.41h9.0M699.4,695.41h-9.0M116.6,671.90h16.9M699.4,671.90h-16.9M116.6,648.39h9.0M699.4,648.39h-9.0M116.6,624.88h9.0M699.4,624.88h-9.0M116.6,601.37h9.0M699.4,601.37h-9.0M116.6,577.86h9.0M699.4,577.86h-9.0" stroke="#000" stroke-width="1.7" fill="none"/>
<rect x="116.6" y="554.35" width="582.8" height="352.6" fill="none" stroke="#000" stroke-width="1.7"/>
<text x="98.2" y="511.0" font-size="26" text-anchor="end">0.0</text>
<text x="98.2" y="440.5" font-size="26" text-anchor="end">0.5</text>
<text x="98.2" y="369.9" font-size="26" text-anchor="end">1.0</text>
<text x="98.2" y="299.4" font-size="26" text-anchor="end">1.5</text>
<text x="98.2" y="228.8" font-size="26" text-anchor="end">2.0</text>
<text x="98.2" y="158.3" font-size="26" text-anchor="end">2.5</text>
<text x="98.2" y="913.9" font-size="26" text-anchor="end">0.25</text>
<text x="98.2" y="796.4" font-size="26" text-anchor="end">0.50</text>
<text x="98.2" y="678.8" font-size="26" text-anchor="end">0.75</text>
<text x="98.2" y="561.3" font-size="26" text-anchor="end">1.00</text>
<text x="116.3" y="945.3" font-size="26" text-anchor="middle">0</text>
<text x="263.1" y="945.3" font-size="26" text-anchor="middle">50</text>
<text x="408.6" y="945.3" font-size="26" text-anchor="middle">100</text>
<text x="553.5" y="945.3" font-size="26" text-anchor="middle">150</text>
<text x="698.6" y="945.3" font-size="26" text-anchor="middle">200</text>
<text x="410" y="985.1" font-size="26.4" text-anchor="middle">Time (fm/c)</text>
<text x="132.6" y="479.8" font-size="26.6">(a)</text>
<text x="132.6" y="877.8" font-size="26.6">(b)</text>
<text transform="translate(25.7,394.6) rotate(-90) scale(1.015,1)" font-size="26.6">&lt;<tspan font-weight="bold">K</tspan><tspan font-size="16.5" dy="11">R</tspan><tspan dy="-11">(1/fm)&gt;</tspan></text>
<text transform="translate(27.8,848.6) rotate(-90)" font-size="26.6">Anisotropy Ratio &lt;R<tspan font-size="15" dy="11">a</tspan><tspan dy="-11" dx="3.2">&gt;</tspan></text>
<path d="M522.5,179.8H571.5" fill="none" stroke="#ff0000" stroke-width="2.5" stroke-dasharray="7.9 11.35" stroke-linecap="round"/>
<path d="M522.6,211.3H571.4" fill="none" stroke="#0000ff" stroke-width="2.6" stroke-dasharray="1 10.5" stroke-linecap="round"/>
<path d="M522.5,243.1H571.5" fill="none" stroke="#008000" stroke-width="2.5" stroke-dasharray="8.8 7.4 0.7 7.2" stroke-linecap="round"/>
<path d="M521.3,274.8H572.7" fill="none" stroke="#ff8000" stroke-width="1.75"/>
<text x="577.5" y="187.3" font-size="21.3"><tspan font-size="13" dy="-12.5">40</tspan><tspan dy="12.5">Ar+</tspan><tspan font-size="13" dy="-12.5">45</tspan><tspan dy="12.5">Sc</tspan></text>
<text x="577.5" y="218.8" font-size="21.3"><tspan font-size="13" dy="-12.5">86</tspan><tspan dy="12.5">Kr+</tspan><tspan font-size="13" dy="-12.5">93</tspan><tspan dy="12.5">Nb</tspan></text>
<text x="577.5" y="250.6" font-size="21.3"><tspan font-size="13" dy="-12.5">86</tspan><tspan dy="12.5">Kr+</tspan><tspan font-size="13" dy="-12.5">197</tspan><tspan dy="12.5">Au</tspan></text>
<text x="577.5" y="282.3" font-size="21.3"><tspan font-size="13" dy="-12.5">197</tspan><tspan dy="12.5">Au+</tspan><tspan font-size="13" dy="-12.5">197</tspan><tspan dy="12.5">Au</tspan></text>
</svg></body></html>
